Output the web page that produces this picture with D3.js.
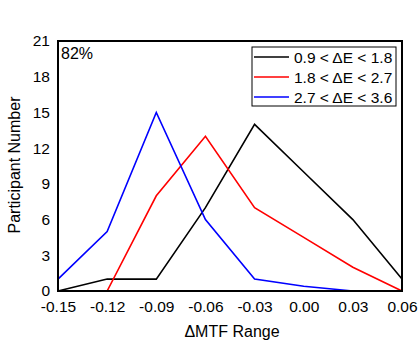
<!DOCTYPE html>
<html>
<head>
<meta charset="utf-8">
<script src="https://cdn.jsdelivr.net/npm/d3@7"></script>
<style>
  body { margin: 0; background: #fff; }
  text { font-family: Arial, "Liberation Sans", sans-serif; fill: #000; }
</style>
</head>
<body>
<svg id="chart" width="420" height="350"></svg>
<script>
// x positions (Delta MTF range)
var mtfRange = [-0.15, -0.12, -0.09, -0.06, -0.03, 0.00, 0.03, 0.06];
// participant counts per Delta E group
var lowE = [0, 1, 1, 7, 14, 10, 6, 1];
var midE = [0, 0, 8, 13, 7, 4.5, 2, 0];
var highE = [1, 5, 15, 6, 1, 0.4, 0, 0];
var seriesNames = ["0.9 < \u0394E < 1.8", "1.8 < \u0394E < 2.7", "2.7 < \u0394E < 3.6"];
var seriesColors = ["#000000", "#ff0000", "#0000ff"];
var xTicks = [-0.15, -0.12, -0.09, -0.06, -0.03, 0.00, 0.03, 0.06];
var yTicks = [0, 3, 6, 9, 12, 15, 18, 21];

var svg = d3.select("#chart");
var margin = {left: 58, right: 18, top: 41, bottom: 59};
var w = 420 - margin.left - margin.right;
var h = 350 - margin.top - margin.bottom;

var x = d3.scaleLinear().domain([-0.15, 0.06]).range([0, w]);
var y = d3.scaleLinear().domain([0, 21]).range([h, 0]);

var g = svg.append("g").attr("transform", "translate(" + margin.left + "," + margin.top + ")");

// axes, tick labels only (plain hyphen for minus like the original)
var fmt = d3.format(".2f");
var xAxis = g.append("g")
  .attr("transform", "translate(0," + h + ")")
  .call(d3.axisBottom(x).tickValues(xTicks).tickSize(0).tickPadding(10)
    .tickFormat(function(d) { return fmt(d).replace("\u2212", "-"); }));
var yAxis = g.append("g")
  .call(d3.axisLeft(y).tickValues(yTicks).tickSize(0).tickPadding(8));
[xAxis, yAxis].forEach(function(a) {
  a.select(".domain").remove();
  a.selectAll("text").style("font-size", "15.5px").style("font-family", "Arial, 'Liberation Sans', sans-serif");
});

// lines
var line = d3.line().x(function(d, i) { return x(mtfRange[i]); }).y(function(d) { return y(d); });
[lowE, midE, highE].forEach(function(s, i) {
  g.append("path")
    .datum(s)
    .attr("d", line)
    .attr("fill", "none")
    .attr("stroke", seriesColors[i])
    .attr("stroke-width", 1.6);
});

// frame
g.append("rect")
  .attr("width", w).attr("height", h)
  .attr("fill", "none").attr("stroke", "#000").attr("stroke-width", 2);

g.append("text").attr("x", 3).attr("y", 18).style("font-size", "16px").text("82%");

// legend
var leg = g.append("g").attr("transform", "translate(" + (x(0.06) - 150) + ",6)");
leg.append("rect").attr("width", 144).attr("height", 59)
  .attr("fill", "#fff").attr("stroke", "#000").attr("stroke-width", 1);
seriesNames.forEach(function(name, i) {
  var yy = 10 + i * 20;
  leg.append("line").attr("x1", 2).attr("x2", 37).attr("y1", yy).attr("y2", yy)
    .attr("stroke", seriesColors[i]).attr("stroke-width", 1.6);
  leg.append("text").attr("x", 42).attr("y", yy + 5.5).style("font-size", "15.5px").text(name);
});

// axis titles
svg.append("text")
  .attr("x", margin.left + w / 2 + 2).attr("y", 337)
  .attr("text-anchor", "middle").style("font-size", "16px")
  .text("\u0394MTF Range");
svg.append("text")
  .attr("transform", "translate(20," + (margin.top + h / 2 - 1) + ") rotate(-90)")
  .attr("text-anchor", "middle").style("font-size", "16px")
  .text("Participant Number");
</script>
</body>
</html>
